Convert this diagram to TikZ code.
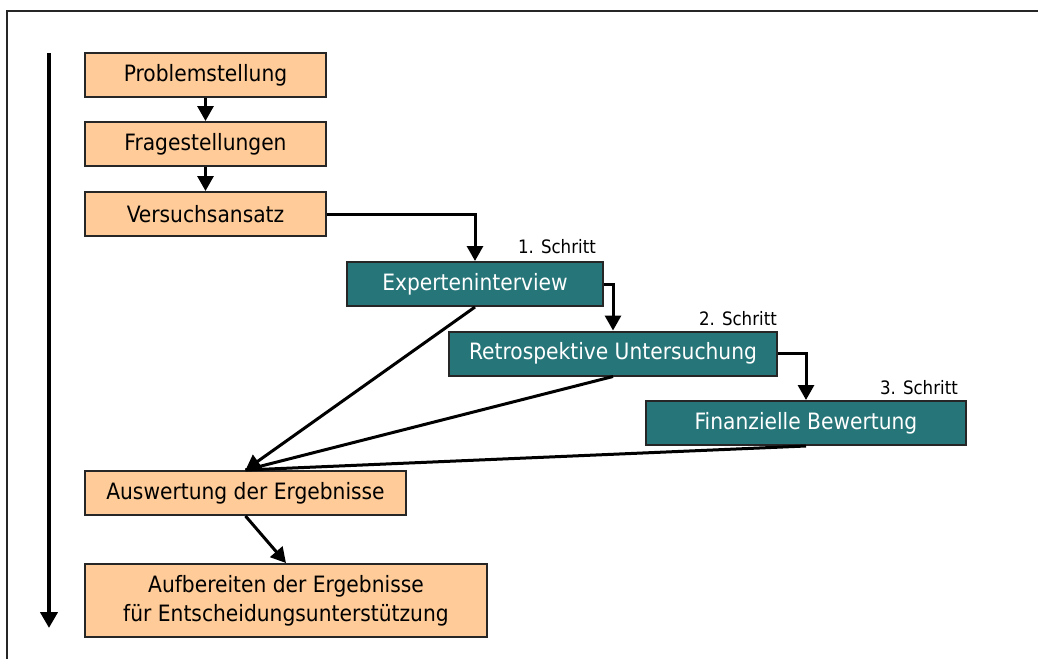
\documentclass[tikz,border=0pt]{standalone}
\usepackage{fontspec}
\setmainfont{DejaVu Sans Condensed}
\usetikzlibrary{arrows.meta}
\definecolor{boxorange}{RGB}{255,204,153}
\definecolor{boxteal}{RGB}{38,117,121}
\begin{document}
\begin{tikzpicture}[x=1pt,y=-1pt,
  stepbox/.style={draw=black!85, line width=2pt, inner sep=0pt, align=center,
    font=\fontsize{22.5}{29}\selectfont},
  plan/.style={stepbox, fill=boxorange, text=black},
  study/.style={stepbox, fill=boxteal, text=white},
  tag/.style={font=\fontsize{18.5}{22}\selectfont, inner sep=0pt, anchor=base east},
  flow/.style={line width=3pt, -{Triangle[length=15pt,width=16pt]}},
  feed/.style={line width=3pt}]
  \useasboundingbox (0,0) rectangle (1038,659);

  % frame (top and left edges)
  \draw[line width=2pt, black!85] (7,659) -- (7,11) -- (1038,11);

  % time axis
  \coordinate (tstart) at (49,53);
  \coordinate (tend) at (49,628);
  \draw[line width=4.5pt, -{Triangle[length=16pt,width=17pt]}] (tstart) -- (tend);

  % process boxes
  \node[plan, minimum width=241pt, minimum height=44pt] (prob) at (205.5,75) {Problemstellung};
  \node[plan, minimum width=241pt, minimum height=44pt] (frage) at (205.5,144) {Fragestellungen};
  \node[plan, minimum width=241pt, minimum height=44pt] (vers) at (205.5,214) {Versuchsansatz};

  \node[study, minimum width=256pt, minimum height=44pt] (exp) at (475,284) {Experteninterview};
  \node[study, minimum width=328pt, minimum height=44pt] (retro) at (613,353.5) {Retrospektive Untersuchung};
  \node[study, minimum width=320pt, minimum height=44pt] (fin) at (806,423) {Finanzielle Bewertung};

  \node[plan, minimum width=321pt, minimum height=44pt] (ausw) at (245.5,493) {Auswertung der Ergebnisse};
  \node[plan, minimum width=402pt, minimum height=73pt] (aufb) at (286,600.5) {Aufbereiten der Ergebnisse\\für Entscheidungsunterstützung};

  % step labels
  \node[tag] (s1) at (596,253) {1. Schritt};
  \node[tag] (s2) at (777,325) {2. Schritt};
  \node[tag] (s3) at (958,394) {3. Schritt};

  % connectors
  \draw[flow] (prob) -- (frage);
  \draw[flow] (frage) -- (vers);
  \draw[flow] (vers.east) -| (exp.north);
  \draw[flow] (exp.east) -| (retro.north);
  \draw[flow] (retro.east) -| (fin.north);
  \draw[feed] (fin.south) -- (ausw.north);
  \draw[feed] (retro.south) -- (ausw.north);
  \draw[flow] (exp.south) -- (ausw.north);
  \draw[flow] (ausw.south) -- (aufb.north);
\end{tikzpicture}
\end{document}
